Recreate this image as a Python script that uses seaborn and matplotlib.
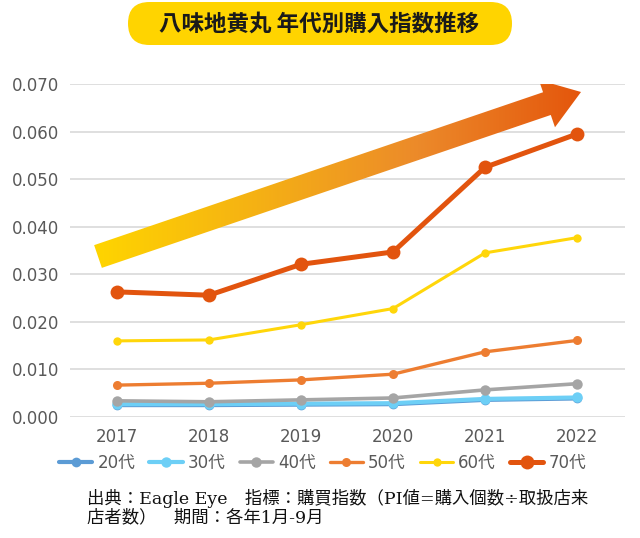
import numpy as np
import pandas as pd
import matplotlib
matplotlib.use("Agg")
import matplotlib.pyplot as plt
from matplotlib.patches import Polygon, FancyBboxPatch
from matplotlib.colors import LinearSegmentedColormap
import seaborn as sns

years = [2017, 2018, 2019, 2020, 2021, 2022]
age_groups = ["20代", "30代", "40代", "50代", "60代", "70代"]
pi_20s = [0.0025, 0.0025, 0.0026, 0.0027, 0.0036, 0.0039]
pi_30s = [0.0027, 0.0027, 0.0028, 0.0029, 0.0038, 0.0041]
pi_40s = [0.0034, 0.0032, 0.0036, 0.0040, 0.0057, 0.0070]
pi_50s = [0.0067, 0.0071, 0.0078, 0.0090, 0.0137, 0.0161]
pi_60s = [0.0160, 0.0162, 0.0194, 0.0228, 0.0345, 0.0377]
pi_70s = [0.0263, 0.0256, 0.0321, 0.0347, 0.0525, 0.0595]
yticks = [0.0, 0.01, 0.02, 0.03, 0.04, 0.05, 0.06, 0.07]

colors = ["#5B9BD5", "#6DCFF6", "#A5A5A5", "#ED7D31", "#FFD60A", "#E2540E"]
line_w = [3.0, 3.0, 2.6, 2.4, 2.2, 3.6]
mark_s = [7, 7.5, 7.5, 6.5, 6, 10]

title = "八味地黄丸 年代別購入指数推移"
note1 = "出典：Eagle Eye　指標：購買指数（PI値=購入個数÷取扱店来"
note2 = "店者数）　期間：各年1月-9月"

df = pd.DataFrame({"year": years * 6,
                   "age": [a for a in age_groups for _ in years],
                   "pi": pi_20s + pi_30s + pi_40s + pi_50s + pi_60s + pi_70s})

sns.set_style("white")
plt.rcParams["font.family"] = ["DejaVu Sans", "Noto Sans CJK JP"]

fig = plt.figure(figsize=(6.4, 5.38), dpi=100)

# overlay in pixel units for the title pill and footer
bg = fig.add_axes([0, 0, 1, 1], zorder=0)
bg.set_xlim(0, 640)
bg.set_ylim(538, 0)
bg.axis("off")
bg.add_patch(FancyBboxPatch((128, 2), 384, 43,
                            boxstyle="round,pad=0,rounding_size=21.5",
                            facecolor="#FFD400", edgecolor="none"))
bg.text(319, 24, title, ha="center", va="center", fontsize=16.2,
        fontweight="bold", color="#1a1a1a", family=["Noto Sans CJK JP"])
bg.text(87, 498, note1, ha="left", va="center", fontsize=12.5, color="#111111",
        family=["DejaVu Serif", "Noto Sans CJK JP"])
bg.text(87, 518, note2, ha="left", va="center", fontsize=12.5, color="#111111",
        family=["DejaVu Serif", "Noto Sans CJK JP"])

ax = fig.add_axes([70 / 640, 1 - 417 / 538, 555 / 640, 333 / 538], zorder=1)
ax.set_facecolor("none")

for age, c, lw, ms in zip(age_groups, colors, line_w, mark_s):
    sns.lineplot(data=df[df["age"] == age], x="year", y="pi", ax=ax, color=c,
                 linewidth=lw, marker="o", markersize=ms, markeredgewidth=0,
                 label=age, zorder=3)

xlim = (2016.49, 2022.52)
ylim = (0, 0.07)
ax.set_xlim(*xlim)
ax.set_ylim(*ylim)
ax.set_xticks(years)
ax.set_yticks(yticks)
ax.set_yticklabels([f"{v:.3f}" for v in yticks])
ax.set_xlabel("")
ax.set_ylabel("")
ax.tick_params(axis="both", length=0, labelsize=12, labelcolor="#595959")
ax.tick_params(axis="y", pad=8)
ax.tick_params(axis="x", pad=8)
ax.yaxis.grid(True, color="#D9D9D9", linewidth=1.2)
ax.set_axisbelow(True)
sns.despine(ax=ax, left=True, bottom=True)

# gradient trend arrow (decoration), geometry in display pixels
fig.canvas.draw()
tail = np.array([98.0, 538 - 256.5])
tip = np.array([581.0, 538 - 92.0])
u = (tip - tail) / np.linalg.norm(tip - tail)
n = np.array([-u[1], u[0]])
shaft_hw, head_hw, head_len = 12.0, 25.0, 36.0
base = tip - head_len * u
pts_px = np.array([tail + n * shaft_hw, base + n * shaft_hw, base + n * head_hw, tip,
                   base - n * head_hw, base - n * shaft_hw, tail - n * shaft_hw])
pts = ax.transData.inverted().transform(pts_px)
arrow = Polygon(pts, closed=True, facecolor="none", edgecolor="none")
ax.add_patch(arrow)
cmap = LinearSegmentedColormap.from_list("trend", ["#FFD500", "#F5B114", "#EC8A2A", "#E4560C"])
grad = np.linspace(0, 1, 256).reshape(1, -1)
im = ax.imshow(grad, cmap=cmap, aspect="auto", zorder=2,
               extent=[pts[:, 0].min(), pts[:, 0].max(), pts[:, 1].min(), pts[:, 1].max()])
im.set_clip_path(arrow)
ax.set_xlim(*xlim)
ax.set_ylim(*ylim)

handles, labels = ax.get_legend_handles_labels()
ax.legend_.remove()
fig.legend(handles, labels, loc="center", bbox_to_anchor=(0.504, 1 - 463 / 538),
           ncol=6, frameon=False, fontsize=12, handlelength=2.0, handletextpad=0.3,
           columnspacing=0.85, labelcolor="#595959")

fig.savefig("out.png", dpi=100, facecolor="white")
